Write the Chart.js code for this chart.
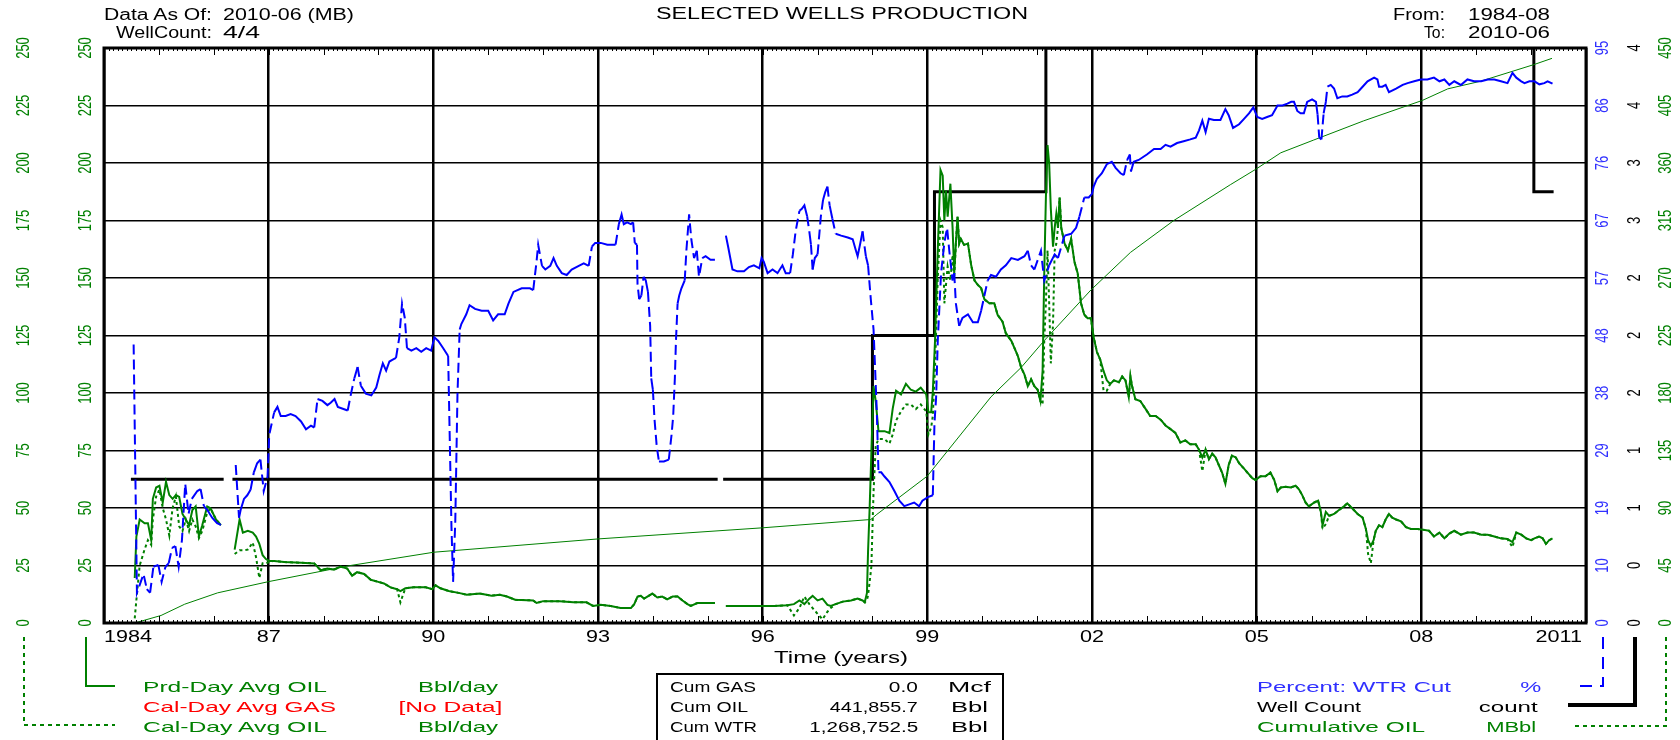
<!DOCTYPE html>
<html>
<head>
<meta charset="utf-8">
<title>Selected Wells Production</title>
<script src="https://cdn.jsdelivr.net/npm/chart.js@4.4.1/dist/chart.umd.min.js"></script>
<style>
  html, body { margin: 0; padding: 0; background: #fff; overflow: hidden; }
  #wrap { position: relative; width: 1680px; height: 740px; }
  #chart { position: absolute; left: 0; top: 0; }
  .t { position: absolute; white-space: nowrap; font: 15px "Liberation Sans", Arial, sans-serif; line-height: 16px; color: #000; transform-origin: left center; }
  .t.r { transform-origin: right center; }
  .h { font-size: 16px; }
  .g { color: #008000; }
  .red { color: #ff0000; }
  .b { color: #3030ff; }
  #box { position: absolute; left: 656px; top: 673px; width: 344px; height: 90px; border: 2px solid #000; }
</style>
</head>
<body>
<div id="wrap">
  <canvas id="chart" width="1680" height="740"></canvas>

  <div class="t h" data-w="108" style="left:104px;top:7px">Data As Of:</div>
  <div class="t h" data-w="131" style="left:223px;top:7px">2010-06 (MB)</div>
  <div class="t h" data-w="96" style="left:116px;top:25px">WellCount:</div>
  <div class="t h" data-w="37" style="left:223px;top:25px">4/4</div>
  <div class="t h" data-w="372" style="left:656px;top:6px">SELECTED WELLS PRODUCTION</div>
  <div class="t h" data-w="52" style="left:1393px;top:7px">From:</div>
  <div class="t h" data-w="82" style="left:1468px;top:7px">1984-08</div>
  <div class="t h" data-w="21" style="left:1424px;top:25px">To:</div>
  <div class="t h" data-w="82" style="left:1468px;top:25px">2010-06</div>
  <div class="t h" data-w="134" style="left:774px;top:650px">Time (years)</div>

  <div class="t g" data-w="184" style="left:143px;top:679px">Prd-Day Avg OIL</div>
  <div class="t red" data-w="193" style="left:143px;top:699px">Cal-Day Avg GAS</div>
  <div class="t g" data-w="184" style="left:143px;top:719px">Cal-Day Avg OIL</div>
  <div class="t r g" data-w="80" style="right:1182px;top:679px">Bbl/day</div>
  <div class="t r red" data-w="104" style="right:1178px;top:699px">[No Data]</div>
  <div class="t r g" data-w="80" style="right:1182px;top:719px">Bbl/day</div>

  <div id="box"></div>
  <div class="t" data-w="86" style="left:670px;top:679px">Cum GAS</div>
  <div class="t" data-w="78" style="left:670px;top:699px">Cum OIL</div>
  <div class="t" data-w="87" style="left:670px;top:719px">Cum WTR</div>
  <div class="t r" data-w="29" style="right:762px;top:679px">0.0</div>
  <div class="t r" data-w="88" style="right:762px;top:699px">441,855.7</div>
  <div class="t r" data-w="109" style="right:762px;top:719px">1,268,752.5</div>
  <div class="t" data-w="43" style="left:948px;top:679px">Mcf</div>
  <div class="t" data-w="37" style="left:951px;top:699px">Bbl</div>
  <div class="t" data-w="37" style="left:951px;top:719px">Bbl</div>

  <div class="t b" data-w="194" style="left:1257px;top:679px">Percent: WTR Cut</div>
  <div class="t" data-w="104" style="left:1257px;top:699px">Well Count</div>
  <div class="t g" data-w="168" style="left:1257px;top:719px">Cumulative OIL</div>
  <div class="t r b" data-w="21" style="right:139px;top:679px">%</div>
  <div class="t r" data-w="59" style="right:142px;top:699px">count</div>
  <div class="t r g" data-w="50" style="right:144px;top:719px">MBbl</div>
</div>

<script>
// x axis: decimal years
const yearTicks = [1984, 1987, 1990, 1993, 1996, 1999, 2002, 2005, 2008, 2011];
const yearLabels = ['1984', '87', '90', '93', '96', '99', '02', '05', '08', '2011'];

// tick labels for the five value axes
const oilTickLabels = ['0', '25', '50', '75', '100', '125', '150', '175', '200', '225', '250'];
const wtrTickLabels = ['0', '10', '19', '29', '38', '48', '57', '67', '76', '86', '95'];
const countTickLabels = ['0', '0', '1', '1', '2', '2', '2', '3', '3', '4', '4'];
const cumTickLabels = ['0', '45', '90', '135', '180', '225', '270', '315', '360', '405', '450'];

// Percent: WTR Cut (%)
const wtrYears = [
  1984.54, 1984.60, 1984.72, 1984.78, 1984.84, 1984.90, 1984.99, 1985.05, 1985.12, 1985.18,
  1985.24, 1985.30, 1985.36, 1985.42, 1985.48, 1985.54, 1985.60, 1985.70, 1985.76, 1985.82,
  1985.88, 1985.97, 1986.06, 1986.13, 1986.26, 1986.40, 1986.46, 1986.49, 1986.55, 1986.61,
  1986.67, 1986.73, 1986.79, 1986.85, 1986.91, 1986.98, 1987.01, 1987.10, 1987.16, 1987.22,
  1987.31, 1987.40, 1987.49, 1987.59, 1987.68, 1987.77, 1987.83, 1987.89, 1987.98, 1988.07,
  1988.13, 1988.20, 1988.26, 1988.35, 1988.44, 1988.50, 1988.56, 1988.62, 1988.68, 1988.77,
  1988.87, 1988.96, 1989.02, 1989.08, 1989.14, 1989.20, 1989.26, 1989.32, 1989.38, 1989.43,
  1989.48, 1989.52, 1989.60, 1989.69, 1989.78, 1989.87, 1989.96, 1990.02, 1990.09, 1990.18,
  1990.27, 1990.33, 1990.36, 1990.40, 1990.44, 1990.48, 1990.51, 1990.60, 1990.66, 1990.76,
  1990.88, 1991.00, 1991.09, 1991.18, 1991.30, 1991.37, 1991.46, 1991.61, 1991.76, 1991.82,
  1991.88, 1991.91, 1991.98, 1992.04, 1992.13, 1992.19, 1992.25, 1992.34, 1992.43, 1992.52,
  1992.65, 1992.74, 1992.83, 1992.89, 1992.95, 1993.05, 1993.17, 1993.32, 1993.38, 1993.43,
  1993.47, 1993.53, 1993.60, 1993.64, 1993.67, 1993.71, 1993.72, 1993.75, 1993.79, 1993.83,
  1993.87, 1993.91, 1993.95, 1993.97, 1994.00, 1994.03, 1994.07, 1994.11, 1994.20, 1994.29,
  1994.34, 1994.37, 1994.40, 1994.42, 1994.45, 1994.48, 1994.52, 1994.58, 1994.61, 1994.66,
  1994.70, 1994.75, 1994.80, 1994.84, 1994.90, 1994.96, 1995.05, 1995.13, 1995.23, 1995.33,
  1995.37, 1995.41, 1995.45, 1995.54, 1995.66, 1995.75, 1995.84, 1995.94, 1995.98, 1996.02,
  1996.09, 1996.18, 1996.27, 1996.36, 1996.42, 1996.50, 1996.55, 1996.60, 1996.67, 1996.71,
  1996.76, 1996.81, 1996.85, 1996.88, 1996.91, 1996.95, 1997.00, 1997.03, 1997.06, 1997.10,
  1997.14, 1997.18, 1997.22, 1997.27, 1997.33, 1997.43, 1997.55, 1997.64, 1997.70, 1997.73,
  1997.78, 1997.82, 1997.88, 1997.92, 1997.97, 1998.02, 1998.05, 1998.08, 1998.11, 1998.16,
  1998.22, 1998.31, 1998.40, 1998.49, 1998.58, 1998.67, 1998.76, 1998.85, 1998.91, 1999.01,
  1999.10, 1999.13, 1999.16, 1999.19, 1999.25, 1999.31, 1999.36, 1999.40, 1999.46, 1999.49,
  1999.52, 1999.58, 1999.64, 1999.74, 1999.83, 1999.92, 1999.98, 2000.04, 2000.10, 2000.16,
  2000.25, 2000.34, 2000.43, 2000.53, 2000.65, 2000.77, 2000.83, 2000.89, 2000.95, 2001.07,
  2001.13, 2001.22, 2001.32, 2001.38, 2001.50, 2001.62, 2001.71, 2001.77, 2001.86, 2001.94,
  2002.00, 2002.03, 2002.09, 2002.18, 2002.27, 2002.36, 2002.43, 2002.52, 2002.58, 2002.64,
  2002.69, 2002.71, 2002.76, 2002.85, 2003.00, 2003.13, 2003.25, 2003.34, 2003.43, 2003.55,
  2003.67, 2003.79, 2003.89, 2003.95, 2004.01, 2004.07, 2004.13, 2004.22, 2004.34, 2004.43,
  2004.49, 2004.57, 2004.68, 2004.77, 2004.86, 2004.94, 2005.01, 2005.10, 2005.19, 2005.28,
  2005.38, 2005.47, 2005.56, 2005.63, 2005.68, 2005.74, 2005.80, 2005.86, 2005.92, 2006.01,
  2006.08, 2006.11, 2006.14, 2006.18, 2006.22, 2006.26, 2006.29, 2006.35, 2006.41, 2006.47,
  2006.56, 2006.65, 2006.74, 2006.84, 2006.93, 2007.02, 2007.14, 2007.20, 2007.23, 2007.29,
  2007.35, 2007.41, 2007.54, 2007.66, 2007.75, 2007.87, 2007.99, 2008.11, 2008.23, 2008.33,
  2008.42, 2008.51, 2008.60, 2008.72, 2008.84, 2008.96, 2009.09, 2009.21, 2009.33, 2009.45,
  2009.57, 2009.66, 2009.73, 2009.82, 2009.88, 2009.97, 2010.06, 2010.15, 2010.24, 2010.30,
  2010.39
];
const wtrPct = [
  46.0, 5.0, 8.1, 5.6, 5.0, 9.3, 9.6, 6.8, 9.3, 9.9,
  12.4, 12.7, 9.3, 13.7, 23.0, 18.0, 20.5, 21.8, 22.1, 19.3,
  18.7, 17.4, 16.5, 16.2, null, 26.1, 17.4, 18.7, 20.5, 21.1,
  22.0, 24.9, 26.4, 27.0, 21.8, 24.2, 31.1, 34.8, 35.7, 34.2,
  34.2, 34.5, 34.2, 33.3, 32.0, 32.6, 32.3, 37.0, 36.7, 36.0,
  36.4, 37.0, 35.7, 35.4, 35.1, 37.9, 40.4, 42.3, 39.2, 37.9,
  37.6, 38.9, 41.0, 42.9, 41.7, 43.2, 43.5, 43.8, 47.2, 52.8,
  50.4, 45.4, 45.0, 45.4, 44.8, 45.4, 45.0, 47.2, 46.6, 45.4,
  44.1, 16.0, 6.8, 16.8, 37.9, 48.5, 49.4, 51.0, 52.5, 51.9,
  51.6, 51.6, 50.0, 51.0, 51.0, 52.8, 54.7, 55.3, 55.3, 55.0,
  59.7, 62.5, 59.0, 58.4, 59.0, 60.3, 59.0, 57.8, 57.5, 58.4,
  59.0, 59.4, 59.0, 62.2, 62.8, 62.8, 62.5, 62.5, 65.9, 67.5,
  65.9, 66.2, 65.9, 66.2, 62.8, 62.5, 56.0, 53.5, 54.1, 57.2,
  56.6, 54.7, 49.1, 40.4, 38.5, 33.6, 29.2, 26.7, 26.7, 27.0,
  31.1, 34.2, 40.4, 46.6, 52.8, 54.1, 55.3, 56.6, 61.5, 67.5,
  63.4, 60.3, 61.5, 57.2, 60.3, 60.6, 60.0, 60.0, null, 64.0,
  62.2, 60.3, 58.4, 58.1, 58.1, 58.8, 59.1, 58.6, 60.3, 59.7,
  57.8, 58.4, 57.8, 59.1, 57.8, 57.8, 60.9, 64.7, 68.1, 68.4,
  69.0, 67.2, 64.7, 62.5, 58.4, 60.3, 60.9, 64.0, 67.2, 69.9,
  71.2, 72.1, 69.0, 66.8, 64.3, 64.0, 63.7, 63.4, 61.5, 60.6,
  62.8, 64.7, 60.6, 59.1, 53.5, 48.5, 41.7, 34.8, 24.9, 24.9,
  24.2, 23.3, 21.8, 20.2, 19.3, 19.6, 19.9, 19.3, 20.2, 20.8,
  21.1, 33.0, 37.3, 46.6, 57.8, 62.8, 65.3, 61.5, 56.6, 57.8,
  52.8, 49.1, 50.4, 51.0, 49.7, 49.7, 51.6, 54.1, 56.6, 57.5,
  57.2, 58.4, 59.1, 60.3, 60.0, 60.6, 61.5, 59.1, 58.4, 61.5,
  56.6, 59.1, 60.9, 60.3, 64.0, 64.3, 65.3, 67.1, 70.3, 70.3,
  70.9, 72.1, 73.4, 74.3, 75.8, 76.2, 75.2, 74.3, 74.0, 76.5,
  77.4, 74.6, 76.2, 76.5, 77.4, 78.3, 78.3, 79.0, 78.7, 79.3,
  79.6, 79.9, 80.2, 81.4, 83.0, 81.1, 83.3, 83.1, 83.1, 84.9,
  83.9, 81.8, 82.4, 83.3, 84.2, 85.2, 83.6, 83.3, 83.6, 83.9,
  85.5, 85.5, 85.8, 86.1, 86.1, 84.6, 84.2, 84.2, 86.1, 86.5,
  86.1, 84.0, 80.2, 79.9, 84.2, 86.1, 88.6, 88.9, 88.3, 86.7,
  87.0, 87.0, 87.3, 87.7, 88.6, 89.5, 90.1, 89.8, 88.6, 88.6,
  88.9, 87.7, 88.3, 88.9, 89.2, 89.5, 89.8, 89.8, 90.1, 89.5,
  89.8, 88.9, 89.5, 88.9, 89.8, 89.5, 89.5, 89.8, 89.8, 89.5,
  89.2, 90.9, 90.1, 89.5, 89.2, 89.5, 89.5, 89.0, 89.2, 89.5,
  89.1
];

// Prd-Day and Cal-Day Avg OIL (Bbl/day), same dates
const oilYears = [
  1984.56, 1984.59, 1984.65, 1984.74, 1984.80, 1984.86, 1984.89, 1984.95, 1985.01, 1985.07,
  1985.13, 1985.19, 1985.25, 1985.31, 1985.37, 1985.43, 1985.49, 1985.55, 1985.61, 1985.67,
  1985.73, 1985.79, 1985.88, 1985.94, 1986.04, 1986.13, 1986.26, 1986.38, 1986.47, 1986.53,
  1986.62, 1986.71, 1986.77, 1986.83, 1986.89, 1986.95, 1987.01, 1987.10, 1987.28, 1987.59,
  1987.83, 1987.95, 1988.07, 1988.19, 1988.31, 1988.43, 1988.52, 1988.61, 1988.74, 1988.86,
  1988.98, 1989.10, 1989.22, 1989.34, 1989.40, 1989.49, 1989.64, 1989.86, 1989.98, 1990.04,
  1990.13, 1990.28, 1990.46, 1990.61, 1990.85, 1991.06, 1991.21, 1991.34, 1991.49, 1991.82,
  1991.88, 1992.00, 1992.30, 1992.55, 1992.79, 1992.91, 1993.05, 1993.23, 1993.41, 1993.60,
  1993.66, 1993.72, 1993.78, 1993.84, 1993.90, 1993.99, 1994.08, 1994.17, 1994.26, 1994.36,
  1994.45, 1994.54, 1994.63, 1994.69, 1994.81, 1994.96, 1995.13, 1995.23, 1995.33, 1995.60,
  1995.91, 1996.21, 1996.45, 1996.57, 1996.67, 1996.76, 1996.85, 1996.91, 1997.00, 1997.09,
  1997.18, 1997.24, 1997.33, 1997.46, 1997.61, 1997.73, 1997.82, 1997.86, 1997.90, 1997.92,
  1997.95, 1997.98, 1998.02, 1998.06, 1998.11, 1998.22, 1998.31, 1998.37, 1998.43, 1998.52,
  1998.61, 1998.70, 1998.79, 1998.88, 1998.98, 1999.02, 1999.07, 1999.10, 1999.14, 1999.19,
  1999.24, 1999.28, 1999.31, 1999.34, 1999.37, 1999.42, 1999.46, 1999.49, 1999.52, 1999.55,
  1999.58, 1999.61, 1999.67, 1999.74, 1999.80, 1999.86, 1999.92, 1999.98, 2000.04, 2000.13,
  2000.22, 2000.28, 2000.37, 2000.43, 2000.53, 2000.59, 2000.65, 2000.71, 2000.77, 2000.83,
  2000.89, 2000.95, 2001.01, 2001.06, 2001.10, 2001.13, 2001.16, 2001.19, 2001.22, 2001.25,
  2001.29, 2001.32, 2001.35, 2001.38, 2001.41, 2001.44, 2001.50, 2001.56, 2001.62, 2001.68,
  2001.74, 2001.80, 2001.86, 2001.92, 2001.98, 2002.03, 2002.09, 2002.15, 2002.21, 2002.27,
  2002.33, 2002.40, 2002.49, 2002.55, 2002.61, 2002.67, 2002.70, 2002.73, 2002.79, 2002.88,
  2002.97, 2003.06, 2003.16, 2003.25, 2003.34, 2003.43, 2003.52, 2003.61, 2003.70, 2003.79,
  2003.89, 2003.95, 2004.01, 2004.07, 2004.13, 2004.19, 2004.25, 2004.31, 2004.37, 2004.43,
  2004.49, 2004.55, 2004.62, 2004.68, 2004.77, 2004.86, 2004.92, 2004.98, 2005.07, 2005.16,
  2005.25, 2005.32, 2005.38, 2005.44, 2005.53, 2005.62, 2005.71, 2005.77, 2005.83, 2005.89,
  2005.95, 2006.05, 2006.12, 2006.17, 2006.20, 2006.26, 2006.32, 2006.41, 2006.50, 2006.59,
  2006.65, 2006.74, 2006.84, 2006.93, 2006.99, 2007.03, 2007.08, 2007.13, 2007.17, 2007.23,
  2007.29, 2007.35, 2007.41, 2007.47, 2007.54, 2007.63, 2007.72, 2007.81, 2007.93, 2008.02,
  2008.14, 2008.23, 2008.33, 2008.42, 2008.51, 2008.60, 2008.72, 2008.84, 2008.96, 2009.09,
  2009.21, 2009.33, 2009.45, 2009.57, 2009.66, 2009.73, 2009.82, 2009.91, 2010.00, 2010.06,
  2010.15, 2010.21, 2010.27, 2010.33, 2010.39
];
const prdDayOil = [
  19.6, 37.6, 45.0, 43.4, 43.4, 36.0, 54.0, 58.9, 59.7, 52.4,
  61.4, 55.6, 54.0, 55.6, 54.8, 47.4, 45.0, 42.5, 49.1, 50.7,
  37.6, 42.5, 50.7, 49.9, 45.0, 42.5, null, 31.9, 45.0, 39.3,
  40.1, 39.3, 37.6, 34.4, 29.5, 27.8, 27.0, 27.0, 26.5, 26.2,
  25.9, 22.9, 23.7, 23.2, 24.5, 23.7, 20.5, 22.1, 21.3, 18.8,
  18.0, 17.2, 15.5, 14.7, 13.9, 15.1, 15.5, 15.5, 14.7, 16.4,
  15.1, 13.9, 13.1, 12.3, 12.8, 11.9, 12.3, 11.5, 10.1, 9.8,
  8.7, 9.5, 9.5, 9.0, 9.0, 7.4, 7.9, 7.4, 6.5, 6.5,
  8.2, 11.5, 11.8, 10.6, 11.5, 12.8, 11.1, 11.5, 10.3, 11.5,
  11.5, 9.8, 8.2, 7.4, 8.7, 8.7, 8.7, null, 7.4, 7.4,
  7.4, 7.4, 7.7, 8.2, 9.8, 8.2, 10.6, 11.8, 9.8, 10.6,
  7.9, 7.4, 8.2, 9.3, 9.8, 10.6, 9.8, 9.0, 13.1, 31.1,
  50.7, 73.6, 103.0, 96.5, 83.4, 83.4, 82.6, 93.3, 101.0, 99.4,
  104.0, 101.4, 100.6, 102.3, 99.4, 91.6, 91.6, 100.6, 122.7, 162.0,
  197.0, 194.5, 175.0, 188.0, 176.7, 191.0, 171.8, 152.0, 165.0, 176.7,
  165.0, 167.0, 164.4, 165.0, 155.4, 148.9, 147.0, 145.6, 140.7, 139.0,
  139.0, 134.0, 131.0, 126.0, 122.7, 119.4, 116.0, 111.0, 108.0, 103.0,
  106.0, 103.0, 101.4, 96.5, 109.6, 152.0, 185.0, 207.8, 199.6, 180.0,
  163.6, 171.8, 178.0, 171.8, 185.0, 171.8, 165.0, 162.0, 167.0, 157.0,
  152.0, 139.0, 134.0, 132.5, 132.5, 124.3, 117.8, 114.5, 109.6, 105.5,
  103.9, 105.5, 104.7, 107.2, 105.5, 98.2, 107.2, 103.0, 97.3, 96.5,
  93.3, 90.0, 90.0, 88.4, 85.9, 84.3, 82.6, 78.5, 79.4, 77.7,
  77.7, 75.3, 72.0, 75.3, 71.2, 73.6, 72.0, 68.7, 65.4, 60.5,
  68.7, 72.8, 72.0, 69.5, 67.1, 64.6, 63.0, 62.2, 63.8, 63.8,
  65.4, 62.2, 57.3, 58.9, 59.2, 58.9, 59.7, 58.1, 55.6, 52.4,
  50.7, 52.4, 53.2, 48.3, 42.5, 48.3, 46.6, 47.4, 49.1, 50.7,
  52.0, 49.9, 47.4, 45.8, 40.9, 36.0, 33.5, 36.0, 40.1, 42.5,
  41.7, 45.0, 47.4, 45.8, 45.0, 44.2, 41.7, 40.9, 40.9, 40.6,
  40.1, 37.6, 39.3, 36.8, 38.9, 40.1, 38.4, 39.3, 39.3, 38.4,
  38.4, 37.6, 36.8, 36.5, 35.2, 39.3, 38.4, 36.8, 36.0, 36.8,
  37.6, 36.8, 34.4, 36.0, 36.8
];
const calDayOil = [
  2.0, 10.0, 25.0, 32.0, 36.0, 34.0, 45.0, 55.0, 58.0, 50.0,
  45.0, 38.0, 50.0, 55.0, 42.0, 40.0, 45.0, 40.0, 45.0, 42.0,
  37.0, 40.0, 48.0, 49.9, 45.0, 42.5, null, 30.0, 31.6, 31.6,
  31.9, 35.0, 28.6, 19.6, 26.0, 26.0, 26.5, 27.0, 26.5, 26.2,
  25.9, 22.9, 23.7, 23.2, 24.5, 23.7, 20.5, 22.1, 21.3, 18.8,
  18.0, 17.2, 15.5, 14.7, 9.0, 15.1, 15.5, 15.5, 14.7, 16.4,
  15.1, 13.9, 13.1, 12.3, 12.8, 11.9, 12.3, 11.5, 10.1, 9.8,
  8.7, 9.5, 9.5, 9.0, 9.0, 7.4, 7.9, 7.4, 6.5, 6.5,
  8.2, 11.5, 11.8, 10.6, 11.5, 12.8, 11.1, 11.5, 10.3, 11.5,
  11.5, 9.8, 8.2, 7.4, 8.7, 8.7, 8.7, null, 7.4, 7.4,
  7.4, 7.4, 7.7, 3.3, 6.5, 11.5, 8.2, 6.5, 4.0, 1.6,
  4.9, 6.5, 8.2, 9.3, 9.8, 10.6, 9.8, 9.0, 10.0, 12.0,
  18.0, 24.5, 57.0, 77.0, 80.0, 80.0, 78.0, 82.0, 88.0, 92.0,
  95.0, 95.0, 93.0, 95.0, 92.0, 82.0, 85.0, 90.0, 111.0, 150.0,
  175.0, 172.0, 139.0, 147.0, 155.0, 149.0, 160.0, 150.0, 165.0, 176.7,
  165.0, 167.0, 164.4, 165.0, 155.4, 148.9, 147.0, 145.6, 140.7, 139.0,
  139.0, 134.0, 131.0, 126.0, 122.7, 119.4, 116.0, 111.0, 108.0, 103.0,
  106.0, 103.0, 101.4, 96.5, 95.0, 122.7, 139.0, 162.0, 139.0, 112.9,
  130.0, 162.0, 165.0, 171.8, 185.0, 171.8, 165.0, 162.0, 167.0, 157.0,
  152.0, 139.0, 134.0, 132.5, 132.5, 124.3, 117.8, 114.5, 101.0, 101.0,
  103.9, 105.5, 104.7, 107.2, 105.5, 98.2, 107.2, 103.0, 97.3, 96.5,
  93.3, 90.0, 90.0, 88.4, 85.9, 84.3, 82.6, 78.5, 79.4, 77.7,
  77.7, 75.3, 66.0, 75.3, 71.2, 73.6, 72.0, 68.7, 65.4, 60.5,
  68.7, 72.8, 72.0, 69.5, 67.1, 64.6, 63.0, 62.2, 63.8, 63.8,
  65.4, 62.2, 57.3, 58.9, 59.2, 58.9, 59.7, 58.1, 55.6, 52.4,
  50.7, 52.4, 53.2, 48.3, 41.0, 43.0, 46.6, 47.4, 49.1, 50.7,
  52.0, 49.9, 47.4, 45.8, 40.9, 30.0, 26.0, 36.0, 40.1, 42.5,
  41.7, 45.0, 47.4, 45.8, 45.0, 44.2, 41.7, 40.9, 40.9, 40.6,
  40.1, 37.6, 39.3, 36.8, 38.9, 40.1, 38.4, 39.3, 39.3, 38.4,
  38.4, 37.6, 36.8, 36.5, 33.0, 39.3, 38.4, 36.8, 36.0, 36.8,
  37.6, 36.8, 34.4, 36.0, 36.8
];

// Cumulative OIL (MBbl)
const cumYears = [
  1984.56, 1985.04, 1985.47, 1986.07, 1987.00, 1988.49, 1990.01, 1993.00, 1996.00, 1997.97,
  1998.08, 1998.50, 1999.00, 2000.16, 2000.71, 2001.13, 2001.98, 2002.70, 2003.49, 2004.52,
  2004.98, 2005.44, 2006.04, 2006.95, 2008.02, 2008.48, 2009.08, 2010.05, 2010.38
];
const cumOil = [
  0, 5.9, 14.7, 23.6, 32.4, 45.0, 55.4, 65.8, 74.5, 81.0,
  85.0, 98.7, 115.0, 177.0, 200.0, 221.0, 260.6, 290.0, 315.0, 343.0,
  355.0, 368.0, 378.0, 393.0, 409.0, 418.0, 424.0, 437.0, 441.9
];

// Well Count
const countYears = [1984.49, 1986.18, 1986.26, 1986.34, 1995.18, 1995.23, 1995.28, 1998.00, 1999.13, 2001.16, 2010.05, 2010.41];
const wellCount = [1, 1, null, 1, 1, null, 1, 2, 3, 4, 3, 3];

const GREEN = '#008000';
const BLUE = '#0000ff';
const FONT = '"Liberation Sans", Arial, sans-serif';

function points(xs, ys) {
    return xs.map((x, i) => ({ x: x, y: ys[i] }));
}

// where each axis writes its rotated labels, and its legend bracket
const axisDecor = {
    yCal: { dx: 24, color: GREEN, labels: oilTickLabels, row: 725, end: 115, width: 2, dash: [4, 4] },
    yPrd: { dx: 34, color: GREEN, labels: oilTickLabels, row: 686, end: 115, width: 2, dash: [] },
    yWtr: { dx: 17, color: '#3030ff', labels: wtrTickLabels, row: 686, end: 1574, width: 2, dash: [12, 8] },
    yCnt: { dx: 17, color: '#000', labels: countTickLabels, row: 705, end: 1568, width: 4, dash: [] },
    yCum: { dx: 18, color: GREEN, labels: cumTickLabels, row: 726, end: 1574, width: 2, dash: [4, 4] }
};

const decorPlugin = {
    id: 'decor',
    afterDatasetsDraw(chart) {
        const { ctx, chartArea: a } = chart;
        const x = chart.scales.x;
        ctx.save();
        // month and year ticks along top and bottom edges
        ctx.strokeStyle = '#000';
        ctx.lineWidth = 1;
        ctx.beginPath();
        for (let m = 0; m <= 27 * 12; m++) {
            const px = Math.round(x.getPixelForValue(1984 + m / 12)) + 0.5;
            const len = m % 12 === 0 ? 7 : 3;
            ctx.moveTo(px, a.bottom);
            ctx.lineTo(px, a.bottom - len);
            ctx.moveTo(px, a.top);
            ctx.lineTo(px, a.top + len);
        }
        ctx.stroke();
        // frame
        ctx.lineWidth = 3;
        ctx.strokeRect(a.left, a.top, a.right - a.left, a.bottom - a.top);
        ctx.restore();
    },
    afterDraw(chart) {
        const { ctx, chartArea: a } = chart;
        const x = chart.scales.x;
        ctx.save();

        // x tick labels
        ctx.font = '16px ' + FONT;
        ctx.fillStyle = '#000';
        ctx.textBaseline = 'middle';
        yearTicks.forEach((yr, i) => {
            const px = x.getPixelForValue(yr);
            ctx.save();
            ctx.translate(i === yearTicks.length - 1 ? px - 4 : px, a.bottom + 15);
            ctx.scale(1.35, 1);
            ctx.textAlign = i === 0 ? 'left' : (i === yearTicks.length - 1 ? 'right' : 'center');
            ctx.fillText(yearLabels[i], 0, 0);
            ctx.restore();
        });

        // rotated value-axis labels and legend brackets
        Object.keys(axisDecor).forEach(id => {
            const sc = chart.scales[id];
            const d = axisDecor[id];
            const lx = sc.left + d.dx;
            ctx.fillStyle = d.color;
            ctx.font = '13px ' + FONT;
            ctx.textAlign = 'center';
            ctx.textBaseline = 'middle';
            sc.ticks.forEach((t, i) => {
                ctx.save();
                ctx.translate(lx, sc.getPixelForValue(t.value));
                ctx.rotate(-Math.PI / 2);
                ctx.scale(1, 1.35);
                ctx.fillText(d.labels[i], 0, 0);
                ctx.restore();
            });

            ctx.strokeStyle = d.color === '#3030ff' ? BLUE : d.color;
            ctx.lineWidth = d.width;
            ctx.setLineDash(d.dash);
            ctx.beginPath();
            ctx.moveTo(lx, a.bottom + 14);
            ctx.lineTo(lx, d.row);
            ctx.lineTo(d.end, d.row);
            ctx.stroke();
            ctx.setLineDash([]);
        });
        ctx.restore();
    }
};

function valueAxis(position, weight, max, step, width, grid) {
    return {
        type: 'linear',
        position: position,
        weight: weight,
        min: 0,
        max: max,
        ticks: { stepSize: step, display: false },
        grid: grid ? { color: '#000', lineWidth: 1.5, drawTicks: false } : { display: false },
        border: { display: false },
        afterFit: s => { s.width = width; }
    };
}

new Chart(document.getElementById('chart'), {
    type: 'line',
    data: {
        datasets: [
            {
                label: 'Percent: WTR Cut',
                data: points(wtrYears, wtrPct),
                yAxisID: 'yWtr',
                borderColor: BLUE,
                borderWidth: 2,
                segment: {
                    borderDash: c => Math.abs(c.p1.y - c.p0.y) > 14 ? [10, 5] : undefined
                }
            },
            {
                label: 'Cal-Day Avg OIL',
                data: points(oilYears, calDayOil),
                yAxisID: 'yCal',
                borderColor: GREEN,
                borderWidth: 2,
                borderDash: [3, 3]
            },
            {
                label: 'Prd-Day Avg OIL',
                data: points(oilYears, prdDayOil),
                yAxisID: 'yPrd',
                borderColor: GREEN,
                borderWidth: 2
            },
            {
                label: 'Cumulative OIL',
                data: points(cumYears, cumOil),
                yAxisID: 'yCum',
                borderColor: GREEN,
                borderWidth: 1
            },
            {
                label: 'Well Count',
                data: points(countYears, wellCount),
                yAxisID: 'yCnt',
                borderColor: '#000',
                borderWidth: 3,
                stepped: 'before'
            }
        ]
    },
    options: {
        responsive: false,
        animation: false,
        devicePixelRatio: 1,
        layout: { padding: { top: 48, left: 0, right: 0, bottom: 0 } },
        elements: {
            point: { radius: 0, hitRadius: 0 },
            line: { tension: 0, fill: false }
        },
        plugins: {
            legend: { display: false },
            tooltip: { enabled: false },
            title: { display: false }
        },
        scales: {
            x: {
                type: 'linear',
                min: 1984,
                max: 2011,
                ticks: { stepSize: 3, display: false },
                grid: { color: '#000', lineWidth: 2.5, drawTicks: false },
                border: { display: false },
                afterFit: s => { s.height = 117; }
            },
            yPrd: valueAxis('left', 1, 250, 25, 52, true),
            yCal: valueAxis('left', 2, 250, 25, 52, false),
            yWtr: valueAxis('right', 1, 95, 9.5, 32, false),
            yCnt: valueAxis('right', 2, 4, 0.4, 30, false),
            yCum: valueAxis('right', 3, 450, 45, 32, false)
        }
    },
    plugins: [decorPlugin]
});

// stretch each text run to the width it has in the picture
document.querySelectorAll('.t[data-w]').forEach(el => {
    const w = el.getBoundingClientRect().width;
    el.style.transform = 'scaleX(' + (Number(el.dataset.w) / w).toFixed(3) + ')';
});
</script>
</body>
</html>
